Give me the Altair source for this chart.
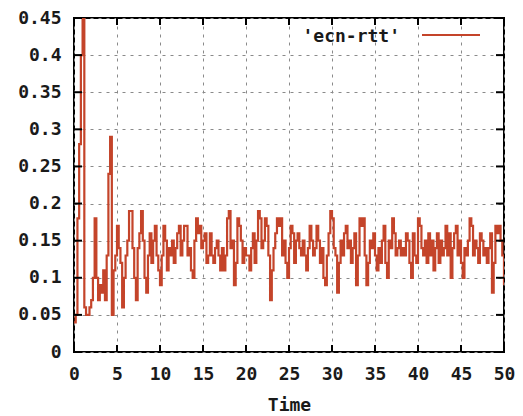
import altair as alt
import pandas as pd

# time step 0.2 s, 0 .. 50
rtt_values = [
    # 0.0 - 9.8
    0.04, 0.05, 0.18, 0.28, 0.40, 0.50, 0.06, 0.05, 0.05, 0.06,
    0.07, 0.10, 0.18, 0.10, 0.07, 0.09, 0.08, 0.11, 0.07, 0.13,
    0.24, 0.29, 0.05, 0.11, 0.13, 0.17, 0.14, 0.12, 0.06, 0.10,
    0.13, 0.15, 0.19, 0.19, 0.14, 0.10, 0.07, 0.14, 0.16, 0.19,
    0.15, 0.10, 0.08, 0.13, 0.16, 0.12, 0.15, 0.17, 0.13, 0.11,
    # 10.0 - 19.8
    0.09, 0.13, 0.17, 0.15, 0.11, 0.14, 0.13, 0.15, 0.12, 0.14,
    0.16, 0.17, 0.13, 0.15, 0.17, 0.17, 0.13, 0.14, 0.11, 0.10,
    0.15, 0.18, 0.16, 0.17, 0.14, 0.15, 0.16, 0.12, 0.13, 0.16,
    0.13, 0.12, 0.14, 0.15, 0.13, 0.11, 0.14, 0.11, 0.13, 0.18,
    0.19, 0.14, 0.15, 0.09, 0.12, 0.18, 0.17, 0.15, 0.12, 0.14,
    # 20.0 - 29.8
    0.13, 0.13, 0.11, 0.14, 0.16, 0.12, 0.15, 0.19, 0.18, 0.14,
    0.15, 0.18, 0.17, 0.13, 0.07, 0.11, 0.14, 0.16, 0.18, 0.17,
    0.18, 0.13, 0.15, 0.12, 0.10, 0.14, 0.17, 0.16, 0.12, 0.15,
    0.16, 0.14, 0.13, 0.15, 0.13, 0.11, 0.14, 0.17, 0.15, 0.13,
    0.14, 0.17, 0.15, 0.12, 0.14, 0.10, 0.09, 0.13, 0.16, 0.19,
    # 30.0 - 39.8
    0.18, 0.14, 0.13, 0.08, 0.12, 0.15, 0.13, 0.16, 0.17, 0.14,
    0.15, 0.12, 0.14, 0.16, 0.09, 0.13, 0.18, 0.17, 0.18, 0.13,
    0.09, 0.12, 0.15, 0.14, 0.16, 0.13, 0.11, 0.14, 0.12, 0.15,
    0.17, 0.12, 0.10, 0.15, 0.14, 0.18, 0.16, 0.13, 0.14, 0.15,
    0.13, 0.14, 0.13, 0.16, 0.15, 0.12, 0.10, 0.16, 0.13, 0.12,
    # 40.0 - 50.0
    0.18, 0.17, 0.14, 0.13, 0.15, 0.12, 0.16, 0.13, 0.15, 0.11,
    0.14, 0.16, 0.12, 0.15, 0.13, 0.14, 0.17, 0.13, 0.16, 0.10,
    0.14, 0.16, 0.17, 0.13, 0.15, 0.12, 0.10, 0.14, 0.13, 0.15,
    0.18, 0.17, 0.13, 0.15, 0.14, 0.12, 0.16, 0.15, 0.13, 0.14,
    0.12, 0.14, 0.16, 0.08, 0.12, 0.17, 0.16, 0.17, 0.15, 0.13,
    0.09,
]
times = [round(i * 0.2, 1) for i in range(len(rtt_values))]

x_ticks = [0, 5, 10, 15, 20, 25, 30, 35, 40, 45, 50]
y_ticks = [0, 0.05, 0.1, 0.15, 0.2, 0.25, 0.3, 0.35, 0.4, 0.45]
series_name = "'ecn-rtt'"

W, H = 430, 334
LINE_COLOR = "#c4442a"
FONT = "DejaVu Sans Mono"

df = pd.DataFrame({"t": times, "v": rtt_values})
xt = pd.DataFrame({"t": x_ticks})
yt = pd.DataFrame({"v": y_ticks})

xscale = alt.Scale(domain=[0, 50], nice=False, zero=False)
yscale = alt.Scale(domain=[0, 0.45], nice=False)

x_axis = alt.Axis(values=x_ticks, title="Time", format="~g")
y_axis = alt.Axis(values=y_ticks, title=None, format="~g")

X = alt.X("t:Q", scale=xscale, axis=x_axis)
Y = alt.Y("v:Q", scale=yscale, axis=y_axis)

line = alt.Chart(df).mark_line(
    color=LINE_COLOR, strokeWidth=2.2, interpolate="step-after", clip=True
).encode(x=X, y=Y)

tick_style = dict(color="black", strokeWidth=2)
left_ticks = alt.Chart(yt).mark_rule(**tick_style).encode(
    y=Y, x=alt.value(0), x2=alt.value(8))
right_ticks = alt.Chart(yt).mark_rule(**tick_style).encode(
    y=Y, x=alt.value(W - 8), x2=alt.value(W))
bottom_ticks = alt.Chart(xt).mark_rule(**tick_style).encode(
    x=X, y=alt.value(H), y2=alt.value(H - 7))
top_ticks = alt.Chart(xt).mark_rule(**tick_style).encode(
    x=X, y=alt.value(0), y2=alt.value(7))

legend_df = pd.DataFrame({"name": [series_name]})
legend_text = alt.Chart(legend_df).mark_text(
    font=FONT, fontWeight="bold", fontSize=18, align="right",
    baseline="middle", color="#1a1a1a"
).encode(text="name:N", x=alt.value(326), y=alt.value(19))
legend_line = alt.Chart(legend_df).mark_rule(
    color=LINE_COLOR, strokeWidth=2
).encode(x=alt.value(348), x2=alt.value(406), y=alt.value(17))

chart = alt.layer(
    line, left_ticks, right_ticks, bottom_ticks, top_ticks,
    legend_text, legend_line
).properties(
    width=W, height=H,
    autosize=alt.AutoSizeParams(type="none"),
    padding={"left": 74, "top": 18, "right": 19, "bottom": 64},
    background="white",
).configure_view(
    stroke="black", strokeWidth=2
).configure_axis(
    grid=True, gridDash=[3, 5], gridColor="#8a8a8a", gridWidth=1,
    domain=False, ticks=False, labelOverlap=False,
    labelFont=FONT, labelFontWeight="bold", labelFontSize=18,
    labelColor="#1a1a1a", labelPadding=13,
    titleFont=FONT, titleFontWeight="bold", titleFontSize=18,
    titleColor="#1a1a1a",
).configure_axisX(
    titlePadding=13, labelFlush=False,
).configure_axisY(
    labelFlush=False,
)

chart.save("out.html", embed_options={"renderer": "svg", "actions": False})
